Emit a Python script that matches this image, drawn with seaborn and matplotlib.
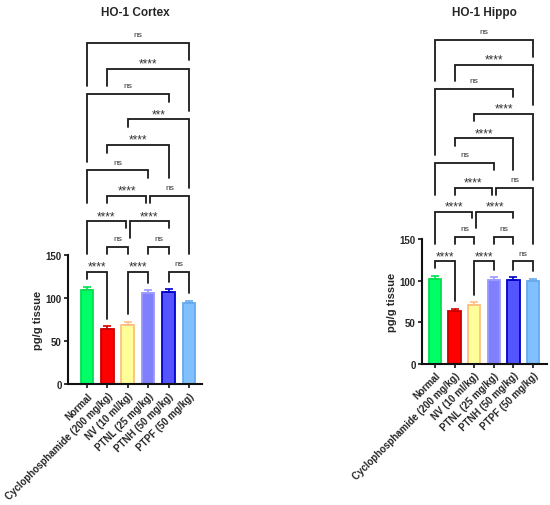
import pandas as pd
import seaborn as sns
import matplotlib.pyplot as plt

groups = ["Normal", "Cyclophosphamide (200 mg/kg)", "NV (10 ml/kg)",
          "PTNL (25 mg/kg)", "PTNH (50 mg/kg)", "PTPF (50 mg/kg)"]

cortex_mean = [109, 64, 69, 106, 107, 94]
cortex_sem = [4, 3, 3, 3, 3, 3]
hippo_mean = [102, 63, 71, 101, 101, 99]
hippo_sem = [4, 3, 3, 3, 3, 3]

# comparisons (group index pairs) and their significance labels
pairs = [(0, 1), (2, 3), (4, 5), (1, 2), (3, 4), (0, 2), (2, 4), (1, 3),
         (3, 5), (0, 3), (1, 4), (2, 5), (0, 4), (1, 5), (0, 5)]
cortex_sig = ["****", "****", "ns", "ns", "ns", "****", "****", "****",
              "ns", "ns", "****", "***", "ns", "****", "ns"]
hippo_sig = ["****", "****", "ns", "ns", "ns", "****", "****", "****",
             "ns", "ns", "****", "****", "ns", "****", "ns"]

fill_colors = ["#00FF66", "#FF0000", "#FFFF99", "#8080FF", "#5555FF", "#80C0FF"]
edge_colors = ["#00E050", "#CC0000", "#FFC080", "#9A9AFF", "#0000CC", "#66AAEE"]

# bracket layout: level of each bracket, and how far down each leg drops (in levels, None = to the bar)
bracket_level = [0, 0, 0, 1, 1, 2, 2, 3, 3, 4, 5, 6, 7, 8, 9]
leg_bottom = [(None, None), (None, None), (None, None), (0.7, 0.7), (0.7, 0.7),
              (0.7, 1.75), (1.35, 1.75), (2.72, 2.72), (2.72, 0.7), (2.72, 3.72),
              (4.7, 3.7), (5.7, 3.3), (4.32, 6.7), (7.33, 6.34), (7.33, 8.32)]

sns.set_style("ticks")
plt.rcParams["font.family"] = ["Liberation Sans", "DejaVu Sans"]
plt.rcParams["font.weight"] = "bold"


def draw_brackets(ax, tops, sig):
    base = max(tops) + 17
    step = 29.6
    for k, ((i, j), lab) in enumerate(zip(pairs, sig)):
        lvl = bracket_level[k]
        y = base + lvl * step
        # shift ends when two brackets share a column on one level
        xl, xr = i, j
        for m, (a, b) in enumerate(pairs):
            if m != k and bracket_level[m] == lvl:
                if b == i:
                    xl = i + 0.1
                if a == j:
                    xr = j - 0.1
        lb, rb = leg_bottom[k]
        yl = tops[i] + 9 if lb is None else base + lb * step
        yr = tops[j] + 9 if rb is None else base + rb * step
        ax.plot([xl, xl, xr, xr], [yl, y, y, yr], color="#1a1a1a", lw=1.3,
                clip_on=False, solid_joinstyle="miter")
        if lab == "ns":
            dy, fs = 3.5, 6
        else:
            dy, fs = -0.5, 8.5
        ax.annotate(lab, ((xl + xr) / 2, y), xytext=(0, dy), textcoords="offset points",
                    ha="center", va="bottom", fontsize=fs, color="#333333",
                    fontweight="normal", annotation_clip=False)


def panel(ax, means, sems, sig, title, xlim):
    df = pd.DataFrame({"group": groups, "value": means})
    sns.barplot(data=df, x="group", y="value", hue="group", order=groups,
                palette=dict(zip(groups, fill_colors)), legend=False, saturation=1,
                width=0.62, errorbar=None, linewidth=1.3, ax=ax)
    for p, ec in zip(ax.patches, edge_colors):
        p.set_edgecolor(ec)
    for i, (m, s) in enumerate(zip(means, sems)):
        ax.errorbar(i, m, yerr=[[0], [s]], color=edge_colors[i], capsize=3,
                    elinewidth=1.2, capthick=1.2, zorder=1)
    ax.set_ylim(0, 150)
    ax.set_yticks([0, 50, 100, 150])
    ax.set_xlim(*xlim)
    ax.set_xlabel("")
    ax.set_ylabel("pg/g tissue", fontsize=8, fontweight="bold", labelpad=2)
    sns.despine(ax=ax)
    for sp in ["left", "bottom"]:
        ax.spines[sp].set_linewidth(1.5)
        ax.spines[sp].set_color("#111111")
    ax.tick_params(width=1.3, length=3, labelsize=7, pad=1.5)
    ax.set_xticks(range(len(groups)))
    ax.set_xticklabels(groups, rotation=45, ha="right", rotation_mode="anchor",
                       fontweight="bold")
    for t in ax.get_yticklabels():
        t.set_fontweight("bold")
    tops = [m + s for m, s in zip(means, sems)]
    draw_brackets(ax, tops, sig)
    pos = ax.get_position()
    ax.figure.text((pos.x0 + pos.x1) / 2, 1 - 13 / 506, title, ha="center", va="center",
                   fontsize=8.5, fontweight="bold")


fig = plt.figure(figsize=(5.5, 5.06), dpi=100)
ax1 = fig.add_axes([68 / 550, 121 / 506, 134 / 550, 129 / 506])
ax2 = fig.add_axes([422 / 550, 141.3 / 506, 125 / 550, 124.7 / 506])

panel(ax1, cortex_mean, cortex_sem, cortex_sig, "HO-1 Cortex", (-0.93, 5.64))
panel(ax2, hippo_mean, hippo_sem, hippo_sig, "HO-1 Hippo", (-0.66, 5.71))

fig.savefig("out.png", dpi=100)
